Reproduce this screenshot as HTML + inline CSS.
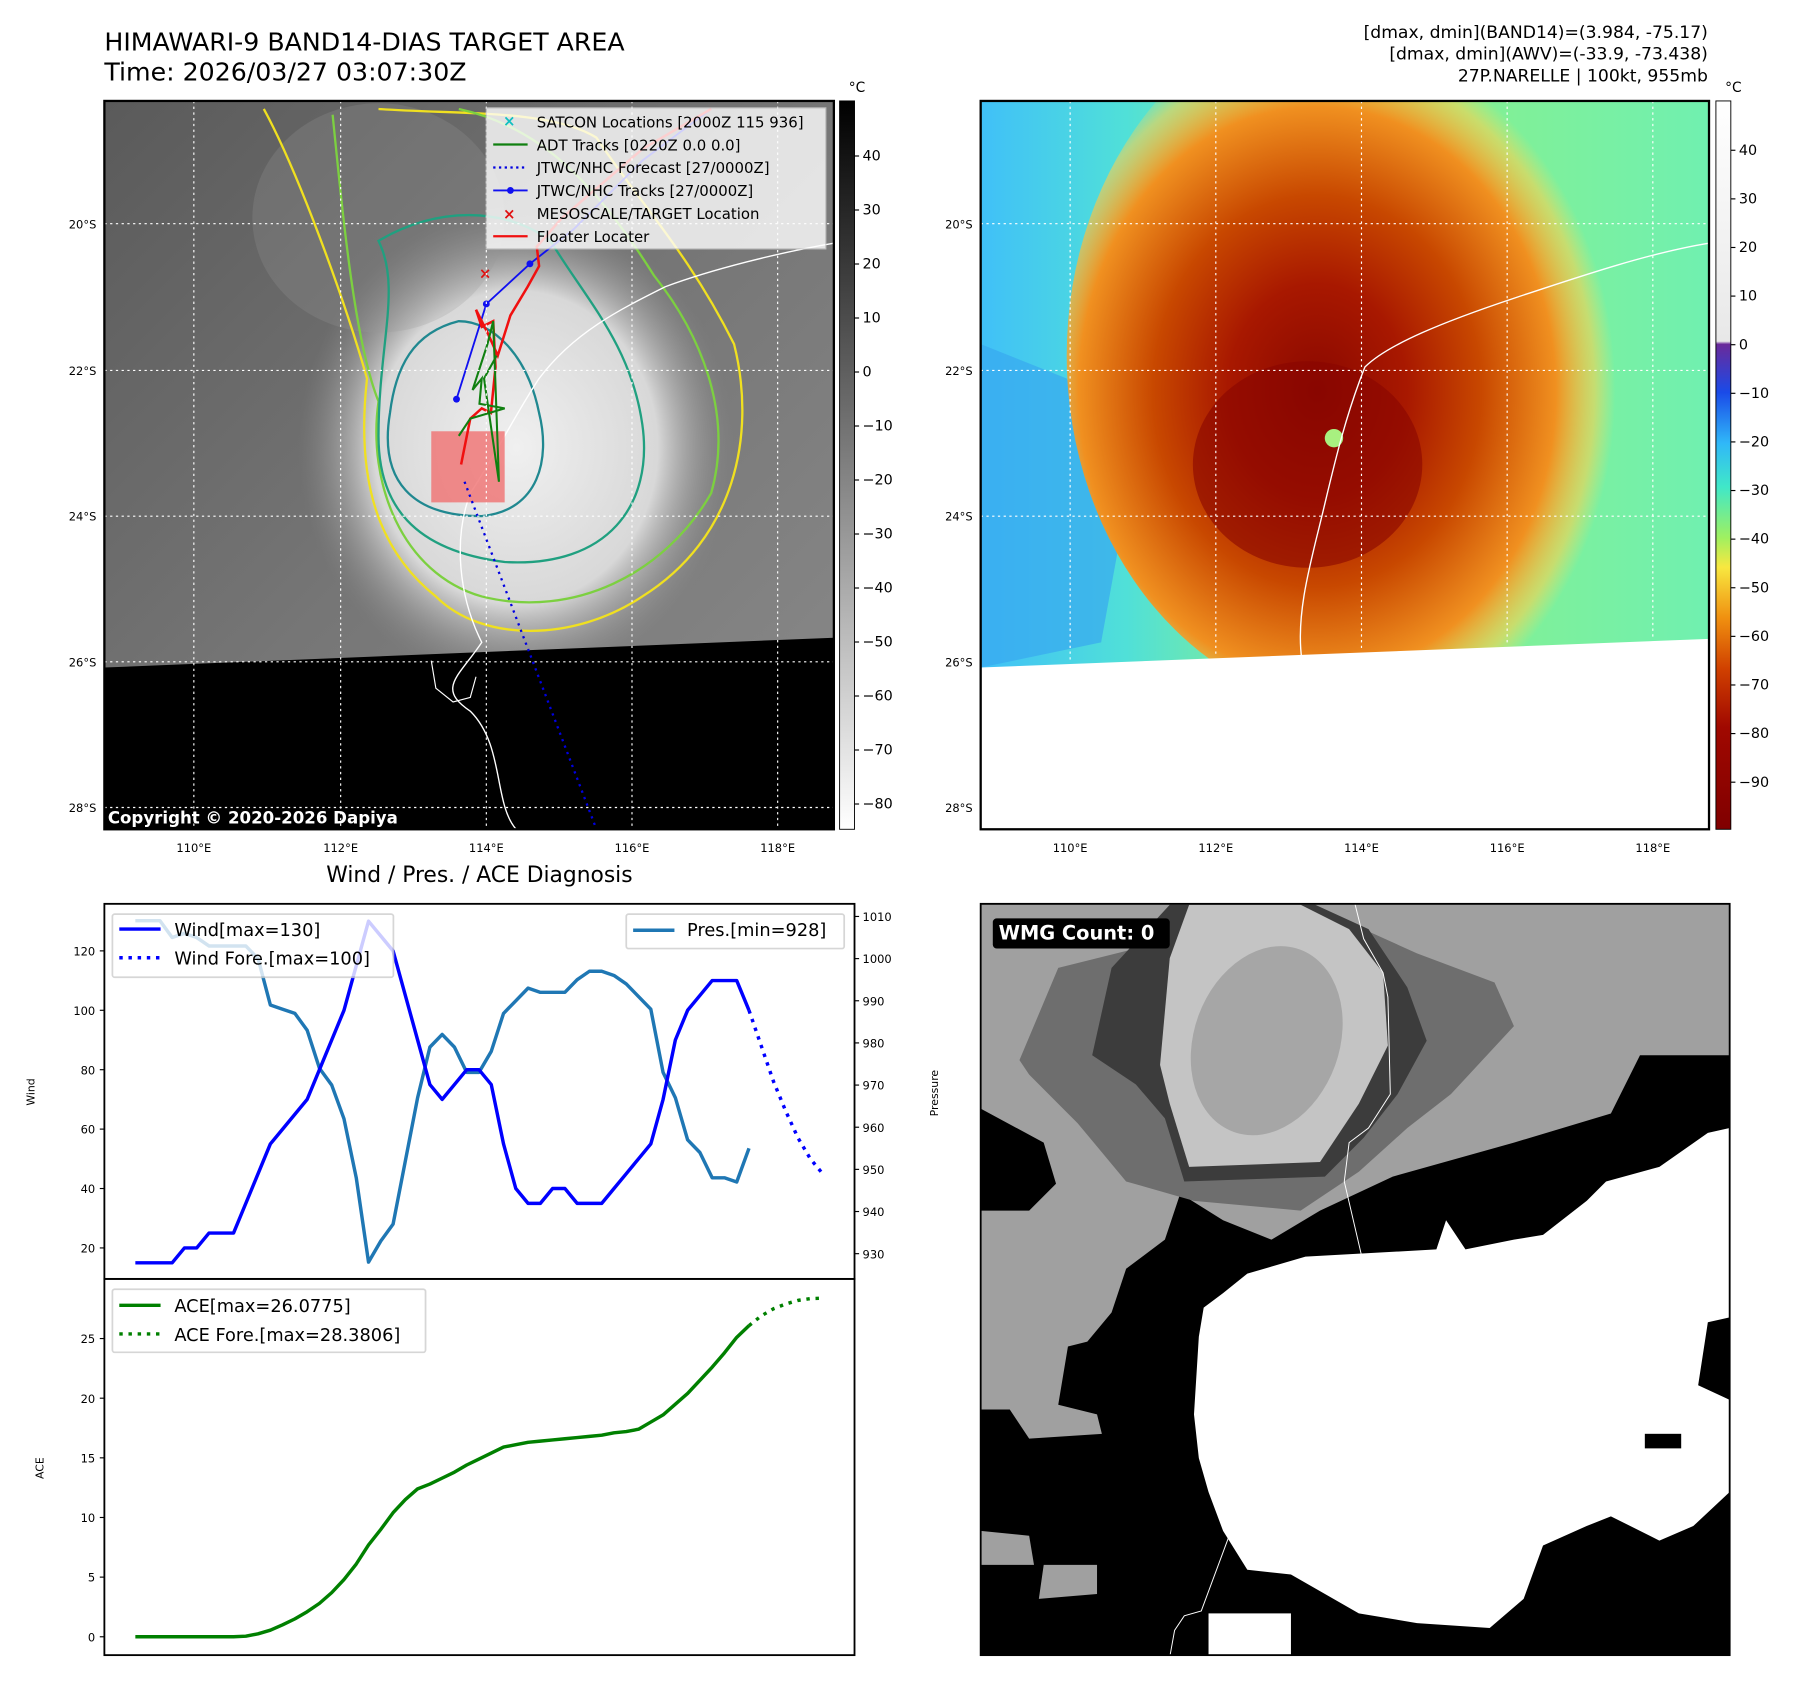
<!DOCTYPE html>
<html><head><meta charset="utf-8"><style>
html,body{margin:0;padding:0;background:#fff}
svg{display:block;font-family:"DejaVu Sans","Liberation Sans",sans-serif}
</style></head><body>
<svg id="root" width="1797" height="1690" viewBox="0 0 1566.7 1473.4" xmlns="http://www.w3.org/2000/svg">
<defs>
<linearGradient id="cb1" x1="0" y1="0" x2="0" y2="1"><stop offset="0" stop-color="#000"/><stop offset="1" stop-color="#fff"/></linearGradient>
<linearGradient id="cb2" x1="0" y1="0" x2="0" y2="1">
<stop offset="0" stop-color="#fff"/><stop offset="0.33" stop-color="#e8e8e8"/><stop offset="0.334" stop-color="#6a2a9a"/>
<stop offset="0.40" stop-color="#1a4ae8"/><stop offset="0.47" stop-color="#30b8f8"/><stop offset="0.53" stop-color="#40e8c8"/>
<stop offset="0.60" stop-color="#a0f060"/><stop offset="0.64" stop-color="#f8e840"/><stop offset="0.71" stop-color="#f09010"/>
<stop offset="0.78" stop-color="#d04000"/><stop offset="0.86" stop-color="#a00800"/><stop offset="1" stop-color="#800000"/></linearGradient>
<radialGradient id="cloud" cx="0.5" cy="0.5" r="0.5"><stop offset="0" stop-color="#f0f0f0"/><stop offset="0.65" stop-color="#d8d8d8"/><stop offset="1" stop-color="#888" stop-opacity="0"/></radialGradient>
<radialGradient id="storm" cx="0.42" cy="0.55" r="0.5"><stop offset="0" stop-color="#8a0800"/><stop offset="0.3" stop-color="#a81800"/><stop offset="0.55" stop-color="#c84800"/><stop offset="0.8" stop-color="#f09020"/><stop offset="0.93" stop-color="#f8d050" stop-opacity="0.6"/><stop offset="1" stop-color="#f8e060" stop-opacity="0"/></radialGradient>
<linearGradient id="grayBg" x1="0" y1="0" x2="1" y2="1"><stop offset="0" stop-color="#5a5a5a"/><stop offset="0.5" stop-color="#767676"/><stop offset="1" stop-color="#8a8a8a"/></linearGradient>
<linearGradient id="greenBg" x1="0" y1="0" x2="1" y2="0"><stop offset="0" stop-color="#40c0f8"/><stop offset="0.2" stop-color="#50e0d8"/><stop offset="0.45" stop-color="#90f080"/><stop offset="1" stop-color="#70f0b0"/></linearGradient>
<clipPath id="clipL"><rect x="91" y="88" width="636" height="635"/></clipPath>
<clipPath id="clipR"><rect x="855" y="88" width="635" height="635"/></clipPath>
</defs>

<text x="91" y="44" font-size="22">HIMAWARI-9 BAND14-DIAS TARGET AREA</text>
<text x="91" y="70" font-size="22">Time: 2026/03/27 03:07:30Z</text>
<g font-size="15" text-anchor="end">
<text x="1489" y="33">[dmax, dmin](BAND14)=(3.984, -75.17)</text>
<text x="1489" y="52">[dmax, dmin](AWV)=(-33.9, -73.438)</text>
<text x="1489" y="71">27P.NARELLE | 100kt, 955mb</text>
</g>

<!-- LEFT MAP -->
<g clip-path="url(#clipL)">
<rect x="91" y="88" width="636" height="635" fill="url(#grayBg)"/>
<ellipse cx="450" cy="390" rx="190" ry="210" fill="url(#cloud)"/>
<ellipse cx="330" cy="190" rx="110" ry="100" fill="#999" opacity="0.25"/>
<path d="M230,95 C260,150 300,260 320,330 C310,420 330,480 380,520 C420,560 500,560 560,520 C640,470 660,380 640,300 C600,220 560,180 520,120 C480,95 400,100 330,95" fill="none" stroke="#f0e020" stroke-width="2"/>
<path d="M290,100 C300,200 310,300 330,350 C320,420 350,500 420,520 C500,540 580,500 620,430 C640,360 610,290 570,240 C520,160 470,110 400,95" fill="none" stroke="#7cd040" stroke-width="2"/>
<path d="M330,210 C350,250 330,300 330,380 C330,440 360,480 440,490 C530,495 570,440 560,370 C550,300 510,260 480,210 C440,180 380,180 330,210Z" fill="none" stroke="#20a080" stroke-width="2"/>
<path d="M340,360 C330,420 360,450 420,450 C470,445 480,400 470,360 C460,310 430,280 400,280 C360,290 345,320 340,360Z" fill="none" stroke="#208890" stroke-width="2"/>
<polygon points="91,582 727,556 727,723 91,723" fill="#000"/>
<path d="M727,212 C680,220 620,235 580,250 C540,270 500,290 470,330 C450,360 430,400 410,430 C395,470 400,520 420,560 C400,590 380,600 410,620 C440,650 430,700 450,723" fill="none" stroke="#fff" stroke-width="1.2"/>
<path d="M376,576 L380,600 L395,612 L410,608 L415,590" fill="none" stroke="#fff" stroke-width="1"/>
<rect x="376" y="376" width="64" height="62" fill="#f07070" opacity="0.8"/>
<path d="M405,420 L520,723" stroke="#0000e0" stroke-width="2" stroke-dasharray="2,4" fill="none"/>
<polyline points="398,348 424,265 462,230 500,200 560,140 620,95" fill="none" stroke="#1010f0" stroke-width="1.6"/>
<circle cx="398" cy="348" r="3" fill="#1010f0"/><circle cx="424" cy="265" r="3" fill="#1010f0"/><circle cx="462" cy="230" r="3" fill="#1010f0"/>
<polyline points="402,405 407,380 410,365 420,356 428,360 432,320 430,280 420,285 415,270 425,290 434,310 445,275 460,250 470,232 468,215 490,190 560,130 620,95" fill="none" stroke="#f01010" stroke-width="2.2"/>
<polyline points="400,380 410,365 440,356 418,352 420,330 412,340 425,300 430,280 435,420 422,330 433,310" fill="none" stroke="#108010" stroke-width="1.8"/>
<text x="423" y="243" font-size="13" fill="#e01010" text-anchor="middle" font-weight="bold">×</text>
<g stroke="#fff" stroke-width="1" stroke-dasharray="2,3">
<line x1="169" y1="88" x2="169" y2="723"/><line x1="297" y1="88" x2="297" y2="723"/><line x1="424" y1="88" x2="424" y2="723"/><line x1="551" y1="88" x2="551" y2="723"/><line x1="678" y1="88" x2="678" y2="723"/>
<line x1="91" y1="195" x2="727" y2="195"/><line x1="91" y1="323" x2="727" y2="323"/><line x1="91" y1="450" x2="727" y2="450"/><line x1="91" y1="577" x2="727" y2="577"/><line x1="91" y1="704" x2="727" y2="704"/>
</g>
<text x="94" y="718" font-size="14.5" font-weight="bold" fill="#fff">Copyright © 2020-2026 Dapiya</text>
</g>
<rect x="91" y="88" width="636" height="635" fill="none" stroke="#000" stroke-width="2"/>
<g>
<rect x="424" y="94" width="296" height="123" fill="#fff" opacity="0.8" stroke="#ccc"/>
<g font-size="13">
<text x="444" y="110" fill="#10c0c0" font-weight="bold" text-anchor="middle">×</text><text x="468" y="111">SATCON Locations [2000Z 115 936]</text>
<line x1="430" y1="126" x2="460" y2="126" stroke="#108010" stroke-width="2"/><text x="468" y="131">ADT Tracks [0220Z 0.0 0.0]</text>
<line x1="430" y1="146" x2="460" y2="146" stroke="#0000e0" stroke-width="2" stroke-dasharray="2,3"/><text x="468" y="151">JTWC/NHC Forecast [27/0000Z]</text>
<line x1="430" y1="166" x2="460" y2="166" stroke="#1010f0" stroke-width="1.6"/><circle cx="445" cy="166" r="3" fill="#1010f0"/><text x="468" y="171">JTWC/NHC Tracks [27/0000Z]</text>
<text x="444" y="191" fill="#e01010" font-weight="bold" text-anchor="middle">×</text><text x="468" y="191">MESOSCALE/TARGET Location</text>
<line x1="430" y1="206" x2="460" y2="206" stroke="#f01010" stroke-width="2"/><text x="468" y="211">Floater Locater</text>
</g></g>
<g font-size="10" text-anchor="end">
<text x="84" y="199">20°S</text><text x="84" y="327">22°S</text><text x="84" y="454">24°S</text><text x="84" y="581">26°S</text><text x="84" y="708">28°S</text>
</g>
<g font-size="10" text-anchor="middle">
<text x="169" y="743">110°E</text><text x="297" y="743">112°E</text><text x="424" y="743">114°E</text><text x="551" y="743">116°E</text><text x="678" y="743">118°E</text>
</g>
<rect x="732" y="88" width="13" height="635" fill="url(#cb1)" stroke="#000" stroke-width="0.8"/>
<text x="740" y="80" font-size="12">°C</text>
<g id="cb1ticks"></g>

<!-- RIGHT MAP -->
<g clip-path="url(#clipR)">
<rect x="855" y="88" width="635" height="635" fill="url(#greenBg)"/>
<polygon points="855,300 930,330 980,450 960,560 855,582" fill="#38a8f0" opacity="0.7"/>
<ellipse cx="1190" cy="310" rx="260" ry="310" fill="url(#storm)"/>
<ellipse cx="1140" cy="405" rx="100" ry="90" fill="#880500" opacity="0.6"/>
<circle cx="1163" cy="382" r="8" fill="#a8f080"/>
<polygon points="855,582 1490,557 1490,723 855,723" fill="#fff"/>
<path d="M1490,212 C1440,220 1380,240 1320,260 C1260,280 1210,300 1190,320 C1170,370 1160,420 1150,460 C1140,500 1130,540 1135,575" fill="none" stroke="#fff" stroke-width="1.2"/>
<g stroke="#fff" stroke-width="1" stroke-dasharray="2,3">
<line x1="933" y1="88" x2="933" y2="578"/><line x1="1060" y1="88" x2="1060" y2="573"/><line x1="1187" y1="88" x2="1187" y2="568"/><line x1="1314" y1="88" x2="1314" y2="563"/><line x1="1441" y1="88" x2="1441" y2="558"/>
<line x1="855" y1="195" x2="1490" y2="195"/><line x1="855" y1="323" x2="1490" y2="323"/><line x1="855" y1="450" x2="1490" y2="450"/>
</g>
</g>
<rect x="855" y="88" width="635" height="635" fill="none" stroke="#000" stroke-width="2"/>
<g font-size="10" text-anchor="end">
<text x="848" y="199">20°S</text><text x="848" y="327">22°S</text><text x="848" y="454">24°S</text><text x="848" y="581">26°S</text><text x="848" y="708">28°S</text>
</g>
<g font-size="10" text-anchor="middle">
<text x="933" y="743">110°E</text><text x="1060" y="743">112°E</text><text x="1187" y="743">114°E</text><text x="1314" y="743">116°E</text><text x="1441" y="743">118°E</text>
</g>
<rect x="1496" y="88" width="13" height="635" fill="url(#cb2)" stroke="#000" stroke-width="0.8"/>
<text x="1504" y="80" font-size="12">°C</text>
<g id="cb2ticks"></g>

<!-- CHART -->
<text x="418" y="769" font-size="19" text-anchor="middle">Wind / Pres. / ACE Diagnosis</text>
<g id="chart"></g>
<rect x="91" y="788" width="654" height="327" fill="none" stroke="#000" stroke-width="1.6"/>
<rect x="91" y="1115" width="654" height="328" fill="none" stroke="#000" stroke-width="1.6"/>
<text transform="translate(30,952) rotate(-90)" font-size="9.5" text-anchor="middle">Wind</text>
<text transform="translate(818,953) rotate(-90)" font-size="9.5" text-anchor="middle">Pressure</text>
<text transform="translate(38,1280) rotate(-90)" font-size="9.5" text-anchor="middle">ACE</text>
<g>
<rect x="98" y="797" width="245" height="55" fill="#fff" opacity="0.8" stroke="#ccc" stroke-width="1.5" rx="2"/>
<line x1="104" y1="810" x2="140" y2="810" stroke="#0000ff" stroke-width="3"/><text x="152" y="816" font-size="15.5">Wind[max=130]</text>
<line x1="104" y1="835" x2="140" y2="835" stroke="#0000ff" stroke-width="3" stroke-dasharray="3,5"/><text x="152" y="841" font-size="15.5">Wind Fore.[max=100]</text>
</g>
<g>
<rect x="546" y="797" width="190" height="30" fill="#fff" opacity="0.8" stroke="#ccc" stroke-width="1.5" rx="2"/>
<line x1="552" y1="811" x2="588" y2="811" stroke="#1f77b4" stroke-width="3"/><text x="599" y="816" font-size="15.5">Pres.[min=928]</text>
</g>
<g>
<rect x="98" y="1124" width="273" height="55" fill="#fff" opacity="0.8" stroke="#ccc" stroke-width="1.5" rx="2"/>
<line x1="104" y1="1138" x2="140" y2="1138" stroke="#008000" stroke-width="3"/><text x="152" y="1144" font-size="15.5">ACE[max=26.0775]</text>
<line x1="104" y1="1163" x2="140" y2="1163" stroke="#008000" stroke-width="3" stroke-dasharray="3,5"/><text x="152" y="1169" font-size="15.5">ACE Fore.[max=28.3806]</text>
</g>

<!-- BOTTOM RIGHT -->
<g>
<svg x="855" y="788" width="653" height="655" viewBox="0 8 1545 1548" preserveAspectRatio="none">
<rect x="0" y="0" width="1545" height="1560" fill="#a0a0a0"/>
<polygon points="0,430 130,500 160,600 290,620 420,610 500,660 600,700 700,640 850,570 1100,500 1300,440 1360,320 1545,320 1545,1560 0,1560" fill="#000"/>
<polygon points="0,640 100,640 160,580 290,600 410,610 380,700 300,760 270,850 220,910 180,920 160,1040 240,1060 250,1100 100,1110 60,1050 0,1050" fill="#a0a0a0"/>
<polygon points="0,1300 100,1310 110,1370 0,1370" fill="#a0a0a0"/>
<polygon points="130,1370 240,1370 240,1430 120,1440" fill="#a0a0a0"/>
<polygon points="670,735 940,720 960,660 1000,720 1100,700 1160,690 1250,620 1290,580 1400,550 1500,480 1545,470 1545,860 1500,870 1480,1000 1545,1030 1545,1220 1470,1290 1400,1320 1300,1270 1250,1290 1160,1330 1120,1440 1050,1500 900,1490 780,1470 640,1390 550,1380 500,1300 470,1220 450,1150 440,1060 450,900 460,840 500,810 550,770" fill="#fff"/>
<rect x="470" y="1470" width="170" height="90" fill="#fff"/>
<rect x="1370" y="1100" width="75" height="30" fill="#000"/>
<polygon points="80,330 160,140 400,80 700,20 900,110 1060,170 1100,260 970,400 880,470 780,560 660,640 440,620 300,580 200,460 100,360" fill="#6e6e6e"/>
<polygon points="230,320 270,140 390,10 690,10 800,60 880,180 920,290 860,400 790,490 710,570 420,580 380,450 320,380" fill="#3c3c3c"/>
<polygon points="370,340 390,120 430,10 660,10 760,60 830,150 840,300 780,420 700,540 430,550 390,420" fill="#c4c4c4"/>
<ellipse cx="590" cy="290" rx="150" ry="200" transform="rotate(20 590 290)" fill="#9a9a9a" opacity="0.7"/>
<polyline points="770,0 790,80 830,150 840,200 845,400 800,470 760,500 750,580 785,730" fill="none" stroke="#fff" stroke-width="2"/>
<polyline points="520,1290 455,1465 420,1475 400,1505 390,1560" fill="none" stroke="#fff" stroke-width="2"/>
<rect x="25" y="38" width="365" height="62" rx="8" fill="#000"/>
<text x="37" y="82" font-size="40" font-weight="bold" fill="#fff">WMG Count: 0</text>
</svg>
<rect x="855" y="788" width="653" height="655" fill="none" stroke="#000" stroke-width="1.6"/>
</g>
</svg>
<script>
const NS="http://www.w3.org/2000/svg";
const windObs=[15,15,15,15,20,20,25,25,25,35,45,55,60,65,70,80,90,100,115,130,125,120,105,90,75,70,75,80,80,75,55,40,35,35,40,40,35,35,35,40,45,50,55,70,90,100,105,110,110,110,100];
const windFore=[100,88,76,66,57,50,45];
const presObs=[1009,1009,1009,1005,1006,1005,1003,1003,1003,1003,1000,989,988,987,983,974,970,962,948,928,933,937,952,967,979,982,979,973,973,978,987,990,993,992,992,992,995,997,997,996,994,991,988,973,967,957,954,948,948,947,955];
const aceObs=[0,0,0,0,0,0,0,0,0,0.05,0.25,0.55,1.0,1.5,2.1,2.8,3.7,4.8,6.1,7.7,9.0,10.4,11.5,12.4,12.8,13.3,13.8,14.4,14.9,15.4,15.9,16.1,16.3,16.4,16.5,16.6,16.7,16.8,16.9,17.1,17.2,17.4,18.0,18.6,19.5,20.4,21.5,22.6,23.8,25.1,26.08];
const aceFore=[26.08,26.9,27.5,27.9,28.2,28.35,28.38];
const windTicks=[20,40,60,80,100,120];
const presTicks=[930,940,950,960,970,980,990,1000,1010];
const aceTicks=[0,5,10,15,20,25];
const cb1Ticks=[40,30,20,10,0,-10,-20,-30,-40,-50,-60,-70,-80];
const cb2Ticks=[40,30,20,10,0,-10,-20,-30,-40,-50,-60,-70,-80,-90];
function xS(i){return 118+i*10.7;}
function yW(v){return 1088-(v-20)*2.59;}
function yP(v){return 1093-(v-930)*3.675;}
function yA(v){return 1427-v*10.4;}
function yC1(v){return 136+(40-v)*4.708;}
function yC2(v){return 131+(40-v)*4.238;}
const chart=document.getElementById('chart');
function mk(tag,attrs,parent){const e=document.createElementNS(NS,tag);for(const k in attrs)e.setAttribute(k,attrs[k]);(parent||chart).appendChild(e);return e;}
function line(vals,off,yf,color,dash,name){
  const d=vals.map((v,i)=>(i?'L':'M')+xS(i+off).toFixed(2)+','+yf(v).toFixed(2)).join(' ');
  const p=mk('path',{d:d,fill:'none',stroke:color,'stroke-width':3,'stroke-linejoin':'round'});
  if(dash)p.setAttribute('stroke-dasharray',dash);
  
  
}
line(presObs,0,yP,'#1f77b4',null,'pressure-line');
line(windObs,0,yW,'#0000ff',null,'wind-line');
line(windFore,50,yW,'#0000ff','3,5','wind-forecast-line');
line(aceObs,0,yA,'#008000',null,'ace-line');
line(aceFore,50,yA,'#008000','3,5','ace-forecast-line');
function ticks(arr,yf,x,side,name,parent,fs){
  arr.forEach(v=>{
    const y=yf(v);
    if(side==='L'){mk('line',{x1:x-4,y1:y,x2:x,y2:y,stroke:'#000','stroke-width':1},parent);}
    else{mk('line',{x1:x,y1:y,x2:x+4,y2:y,stroke:'#000','stroke-width':1},parent);}
    const t=mk('text',{x:side==='L'?x-8:x+7,y:y+4,'font-size':fs,'text-anchor':side==='L'?'end':'start'},parent);
    t.textContent=String(v).replace('-','\u2212');
    
    
  });
}
ticks(windTicks,yW,91,'L','wind-tick-label',chart,10);
ticks(presTicks,yP,745,'R','pressure-tick-label',chart,10);
ticks(aceTicks,yA,91,'L','ace-tick-label',chart,10);
ticks(cb1Ticks,yC1,745,'R','ir-colorbar-tick',document.getElementById('cb1ticks'),12.5);
ticks(cb2Ticks,yC2,1509,'R','awv-colorbar-tick',document.getElementById('cb2ticks'),12.5);
</script>
</body></html>
